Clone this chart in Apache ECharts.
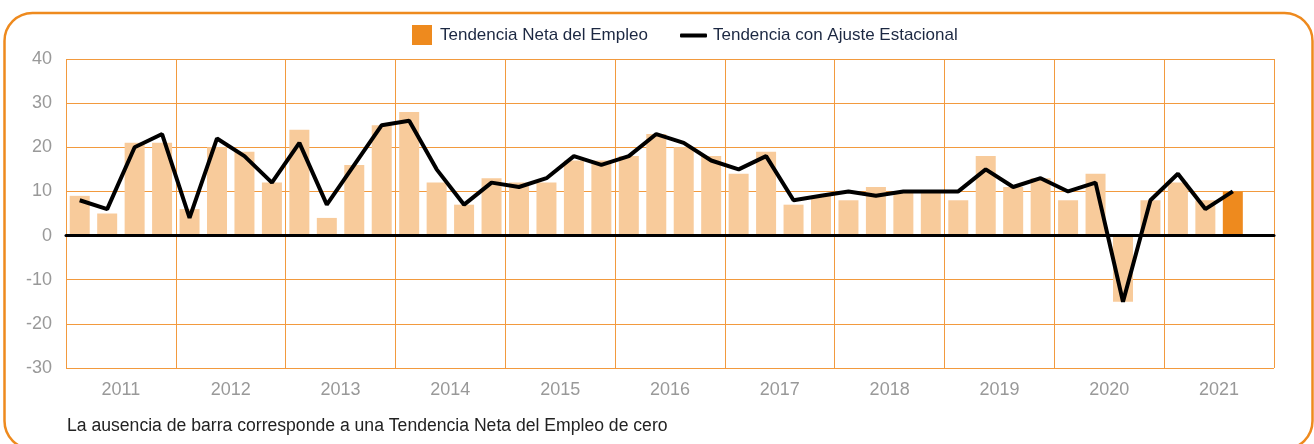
<!DOCTYPE html>
<html lang="es">
<head>
	<meta charset="UTF-8">
	<title>Tendencia Neta del Empleo</title>
	<script src="https://cdn.jsdelivr.net/npm/echarts@6/dist/echarts.min.js"></script>
	<style>
		html, body { margin: 0; padding: 0; background: #fff; }
		#chart { width: 1314px; height: 444px; }
	</style>
</head>
<body>
	<div id="chart"></div>
	<script type="text/javascript">
		// años (etiquetas del eje) y trimestres (una barra por trimestre)
		var years = ['2011', '2012', '2013', '2014', '2015', '2016', '2017', '2018', '2019', '2020', '2021'];
		var quarters = [];
		years.forEach(function (y) {
			for (var q = 1; q <= 4; q++) quarters.push(y + ' T' + q);
		});

		// Tendencia Neta del Empleo (barras); null = sin dato
		var netTrend = [
			9, 5, 21, 21,
			6, 20, 19, 12,
			24, 4, 16, 25,
			28, 12, 7, 13,
			12, 12, 17, 17,
			18, 23, 20, 18,
			14, 19, 7, 9,
			8, 11, 10, 10,
			8, 18, 11, 13,
			8, 14, -15, 8,
			12, 8, 10, null
		];

		// Tendencia con Ajuste Estacional (línea)
		var seasonal = [
			8, 6, 20, 23,
			4, 22, 18, 12,
			21, 7, 16, 25,
			26, 15, 7, 12,
			11, 13, 18, 16,
			18, 23, 21, 17,
			15, 18, 8, 9,
			10, 9, 10, 10,
			10, 15, 11, 13,
			10, 12, -15, 8,
			14, 6, 10, null
		];

		var yTicks = { min: -30, max: 40, step: 10 };

		var ORANGE = '#EE8A1E';
		var LIGHT = '#F8CB9B';
		var GRID = '#F29A3E';

		// el último trimestre se resalta en naranja fuerte
		var lastIdx = 42;
		var barData = netTrend.map(function (v, i) {
			if (i === lastIdx) return { value: v, itemStyle: { color: ORANGE } };
			return v;
		});

		var myChart = echarts.init(document.getElementById('chart'));
		var option = {
			animation: false,
			textStyle: { fontFamily: 'Liberation Sans' },
			legend: [
				{
					left: 407, top: 20,
					itemWidth: 20, itemHeight: 20,
					data: [{ name: 'Tendencia Neta del Empleo', icon: 'rect', itemStyle: { color: ORANGE } }],
					textStyle: { fontSize: 17, color: '#1C2842', padding: [0, 0, 0, 3] }
				},
				{
					left: 675, top: 22,
					itemWidth: 27, itemHeight: 4,
					data: [{ name: 'Tendencia con Ajuste Estacional', icon: 'roundRect' }],
					textStyle: { fontSize: 17, color: '#1C2842', padding: [0, 0, 0, 1] }
				}
			],
			grid: { left: 66, right: 40, top: 59, bottom: 76 },
			xAxis: [
				{
					type: 'category',
					data: quarters,
					z: 3,
					axisLine: { onZero: true, lineStyle: { color: '#000', width: 3 } },
					axisTick: { show: false },
					axisLabel: { show: false },
					splitLine: { show: false }
				},
				{
					type: 'category',
					data: years,
					position: 'bottom',
					axisLine: { show: false, onZero: false },
					axisTick: { show: false },
					axisLabel: { color: '#999', fontSize: 18, margin: 13 },
					splitLine: { show: true, lineStyle: { color: GRID, width: 1 } }
				}
			],
			yAxis: {
				type: 'value',
				min: yTicks.min, max: yTicks.max, interval: yTicks.step,
				axisLine: { show: false },
				axisTick: { show: false },
				axisLabel: { color: '#999', fontSize: 18, margin: 14 },
				splitLine: { lineStyle: { color: GRID, width: 1 } }
			},
			series: [
				{
					name: 'Tendencia Neta del Empleo',
					type: 'bar',
					xAxisIndex: 0,
					barWidth: 20,
					itemStyle: { color: LIGHT },
					data: barData
				},
				{
					name: 'Tendencia con Ajuste Estacional',
					type: 'line',
					xAxisIndex: 0,
					z: 4,
					symbol: 'none',
					itemStyle: { color: '#000' },
					lineStyle: { color: '#000', width: 4 },
					data: seasonal
				}
			],
			graphic: [
				{
					type: 'rect',
					shape: { x: 4.5, y: 13, width: 1308, height: 436, r: 28 },
					style: { fill: 'none', stroke: ORANGE, lineWidth: 2.5 },
					silent: true
				},
				{
					type: 'text',
					left: 67, top: 417,
					style: {
						text: 'La ausencia de barra corresponde a una Tendencia Neta del Empleo de cero',
						fontSize: 17.6, fill: '#222', fontFamily: 'Liberation Sans'
					}
				}
			]
		};
		myChart.setOption(option);
	</script>
</body>
</html>
